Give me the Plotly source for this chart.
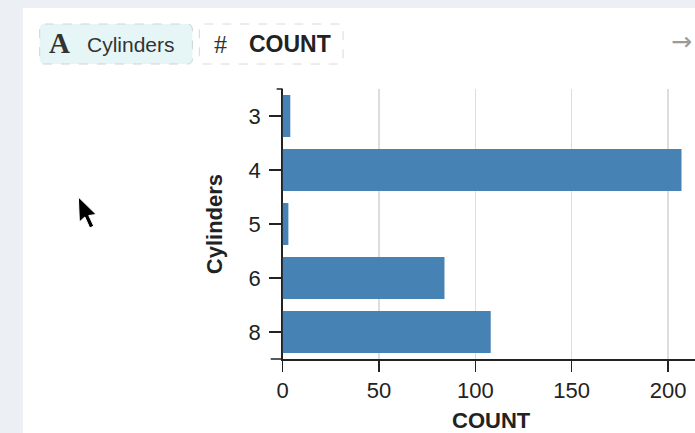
import plotly.graph_objects as go

# ---- data ----
cylinders = ["3", "4", "5", "6", "8"]
counts = [4, 207, 3, 84, 108]
x_ticks = [0, 50, 100, 150, 200]
x_title = "COUNT"
y_title = "Cylinders"

W, H = 695, 433
# plot area in pixels
L, R, T, B = 279, 695, 89, 359


def px(x):
    return x / W


def py(y):
    return (H - y) / H


def rrect(x0, y0, x1, y1, r):
    X0, X1 = px(x0), px(x1)
    Y0, Y1 = py(y0), py(y1)
    rx, ry = r / W, r / H
    return (f"M{X0+rx},{Y0} L{X1-rx},{Y0} Q{X1},{Y0} {X1},{Y0-ry} "
            f"L{X1},{Y1+ry} Q{X1},{Y1} {X1-rx},{Y1} L{X0+rx},{Y1} "
            f"Q{X0},{Y1} {X0},{Y1+ry} L{X0},{Y0-ry} Q{X0},{Y0} {X0+rx},{Y0} Z")


FONT = "Liberation Sans, Arial, Helvetica, sans-serif"

fig = go.Figure(
    go.Bar(
        x=counts,
        y=cylinders,
        orientation="h",
        marker=dict(color="#4682b4", line=dict(width=0)),
        hoverinfo="x+y",
    )
)

shapes = []
# white panel
shapes.append(dict(type="rect", xref="paper", yref="paper", layer="below",
                   x0=px(17), x1=px(W + 5), y0=py(8), y1=py(H + 5),
                   fillcolor="white", line=dict(width=0)))
# pills
shapes.append(dict(type="path", xref="paper", yref="paper", layer="below",
                   path=rrect(34, 24, 188, 64, 5), fillcolor="#e6f6f7",
                   line=dict(color="#c7d6d8", width=1, dash="dash")))
shapes.append(dict(type="path", xref="paper", yref="paper", layer="below",
                   path=rrect(195, 24, 340, 64, 5), fillcolor="white",
                   line=dict(color="#d6dadc", width=1, dash="dash")))
# y-axis outer ticks (bracket ends)
shapes.append(dict(type="line", xref="paper", yref="paper",
                   x0=px(273), x1=px(L), y0=py(T), y1=py(T),
                   line=dict(color="#222", width=1.5)))
shapes.append(dict(type="line", xref="paper", yref="paper",
                   x0=px(267), x1=px(L), y0=py(B), y1=py(B),
                   line=dict(color="#222", width=1.5)))
# mouse cursor
cur = [(73, 197), (74, 222), (79.5, 217), (84.5, 228), (88.5, 226), (83.5, 215.5), (91, 214.5)]
path = "M" + " L".join(f"{px(a)},{py(b)}" for a, b in cur) + " Z"
shapes.append(dict(type="path", xref="paper", yref="paper", path=path,
                   fillcolor="black", line=dict(color="white", width=1)))

annotations = [
    dict(text="<b>A</b>", x=px(54), y=py(43), xref="paper", yref="paper", showarrow=False,
         font=dict(family="Liberation Serif, Times New Roman, serif", size=29, color="#333"),
         xanchor="center", yanchor="middle"),
    dict(text="Cylinders", x=px(80), y=py(44), xref="paper", yref="paper", showarrow=False,
         font=dict(family=FONT, size=21, color="#333"), xanchor="left", yanchor="middle"),
    dict(text="#", x=px(216), y=py(44), xref="paper", yref="paper", showarrow=False,
         font=dict(family="Liberation Serif, serif", size=26, color="#333"),
         xanchor="center", yanchor="middle"),
    dict(text="<b>COUNT</b>", x=px(243), y=py(44), xref="paper", yref="paper", showarrow=False,
         font=dict(family=FONT, size=23, color="#222"), xanchor="left", yanchor="middle"),
    dict(text="→", x=px(681), y=py(41), xref="paper", yref="paper", showarrow=False,
         font=dict(family="DejaVu Sans", size=25, color="#9a9a9a"), xanchor="center", yanchor="middle"),
    # axis titles
    dict(text=f"<b>{x_title}</b>", x=px(490), y=py(420), xref="paper", yref="paper", showarrow=False,
         font=dict(family=FONT, size=22, color="#222"), xanchor="center", yanchor="middle"),
    dict(text=f"<b>{y_title}</b>", x=px(210), y=py(224), xref="paper", yref="paper", showarrow=False,
         textangle=-90, font=dict(family=FONT, size=22, color="#222"),
         xanchor="center", yanchor="middle"),
]

fig.update_layout(
    width=W, height=H,
    margin=dict(l=0, r=0, t=0, b=0, pad=0),
    paper_bgcolor="#eceff3",
    plot_bgcolor="rgba(0,0,0,0)",
    showlegend=False,
    bargap=0.22,
    shapes=shapes,
    annotations=annotations,
    font=dict(family=FONT, size=22, color="#222"),
    xaxis=dict(
        domain=[px(L), px(R)],
        range=[0, 214],
        tickvals=x_ticks,
        ticktext=[str(v) for v in x_ticks],
        showgrid=True, gridcolor="#dddddd", gridwidth=1.5,
        zeroline=False,
        showline=True, linecolor="#222", linewidth=1.5,
        ticks="outside", ticklen=11, tickwidth=1.5, tickcolor="#222",
        tickfont=dict(family=FONT, size=22, color="#222"),
        anchor="y",
        fixedrange=True,
    ),
    yaxis=dict(
        domain=[py(B), py(T)],
        type="category",
        categoryorder="array",
        categoryarray=cylinders,
        range=[4.5, -0.5],
        showgrid=False, zeroline=False,
        showline=True, linecolor="#222", linewidth=1.5,
        ticks="outside", ticklen=12, tickwidth=1.5, tickcolor="#222",
        tickfont=dict(family=FONT, size=22, color="#222"),
        ticklabelstandoff=4,
        layer="below traces",
        anchor="x",
        fixedrange=True,
    ),
)

fig.write_html(
    "out.html",
    config={"displayModeBar": False, "staticPlot": True},
    post_script="document.body.style.margin='0';document.body.style.overflow='hidden';",
)
